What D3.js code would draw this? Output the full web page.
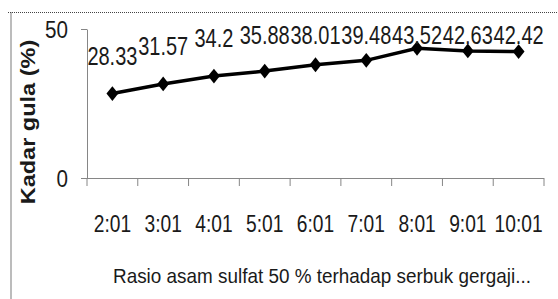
<!DOCTYPE html>
<html>
<head>
<meta charset="utf-8">
<script src="https://d3js.org/d3.v7.min.js"></script>
<style>
  body { margin: 0; background: #fff; }
  text { font-family: "Liberation Sans", Arial, sans-serif; fill: #1a1a1a; }
  .axis line, .axis .domain { stroke: #868686; }
</style>
</head>
<body>
<svg id="chart" width="558" height="299"></svg>
<script>
// data
const ratios = ["2:01", "3:01", "4:01", "5:01", "6:01", "7:01", "8:01", "9:01", "10:01"];
const sugar = [28.33, 31.57, 34.2, 35.88, 38.01, 39.48, 43.52, 42.63, 42.42];
const yTicks = [0, 50];
const yTitle = "Kadar gula (%)";
const xTitle = "Rasio asam sulfat 50 % terhadap serbuk gergaji...";

const svg = d3.select("#chart");
const plot = {left: 87, right: 544, top: 29, bottom: 178};

// the original font is a narrow one, so squeeze the glyphs sideways
function squeeze(sel, sx) {
  sel.each(function () {
    const t = d3.select(this);
    const px = +t.attr("x") || 0, py = +t.attr("y") || 0;
    t.attr("x", 0).attr("y", 0)
      .attr("transform", "translate(" + px + "," + py + ") scale(" + sx + ",1)");
  });
}

// outer frame (left solid, top dotted)
svg.append("line").attr("x1", 11).attr("x2", 11).attr("y1", 12).attr("y2", 299)
  .attr("stroke", "#a6a6a6").attr("stroke-width", 1.5);
svg.append("line").attr("x1", 8).attr("x2", 558).attr("y1", 12.5).attr("y2", 12.5)
  .attr("stroke", "#444").attr("stroke-dasharray", "1,1");

const x = d3.scaleBand().domain(ratios).range([plot.left, plot.right]);
const y = d3.scaleLinear().domain([0, 50]).range([plot.bottom, plot.top]);

// y axis
const yAxis = svg.append("g").attr("class", "axis")
  .attr("transform", "translate(" + plot.left + ",0)")
  .call(d3.axisLeft(y).tickValues(yTicks).tickSize(6).tickSizeOuter(0).tickPadding(13));
yAxis.selectAll("text").style("font-size", "24px").attr("dy", "0.36em");
squeeze(yAxis.selectAll("text"), 0.86);

// x axis
const xAxis = svg.append("g").attr("class", "axis")
  .attr("transform", "translate(0," + plot.bottom + ")")
  .call(d3.axisBottom(x).tickSize(0).tickSizeOuter(0).tickPadding(37));
xAxis.selectAll("text").style("font-size", "24px");
squeeze(xAxis.selectAll("text"), 0.8);
// tick marks sit between categories
xAxis.selectAll(".sep").data(d3.range(ratios.length + 1)).join("line")
  .attr("class", "sep")
  .attr("x1", i => plot.left + i * x.step()).attr("x2", i => plot.left + i * x.step())
  .attr("y1", 0).attr("y2", 8);
xAxis.select(".domain").attr("d", "M" + (plot.left - 6) + ",0.5H" + plot.right);

// line + markers
const cx = d => x(d) + x.bandwidth() / 2;
const pts = ratios.map((r, i) => [cx(r), y(sugar[i])]);
svg.append("path").attr("d", d3.line()(pts))
  .attr("fill", "none").attr("stroke", "#000").attr("stroke-width", 3.5);
svg.selectAll(".mk").data(pts).join("path")
  .attr("class", "mk")
  .attr("transform", d => "translate(" + d[0] + "," + d[1] + ") scale(0.8,1)")
  .attr("d", d3.symbol(d3.symbolDiamond2, 140)())
  .attr("fill", "#000");

// data labels above the points, kept inside the plot
const labels = svg.selectAll(".lbl").data(sugar).join("text")
  .attr("class", "lbl")
  .attr("x", (d, i) => cx(ratios[i]))
  .attr("y", d => Math.max(y(d) - 29, 44))
  .attr("text-anchor", "middle")
  .style("font-size", "25px")
  .text(d => d);
squeeze(labels, 0.8);

// titles
svg.append("text")
  .attr("transform", "translate(35,122) rotate(-90) scale(1.12,1)")
  .attr("text-anchor", "middle")
  .style("font-weight", "bold")
  .style("font-size", "21px")
  .text(yTitle);
const xt = svg.append("text")
  .attr("x", 322).attr("y", 283)
  .attr("text-anchor", "middle")
  .style("font-size", "21px")
  .text(xTitle);
squeeze(xt, 0.9);
</script>
</body>
</html>
